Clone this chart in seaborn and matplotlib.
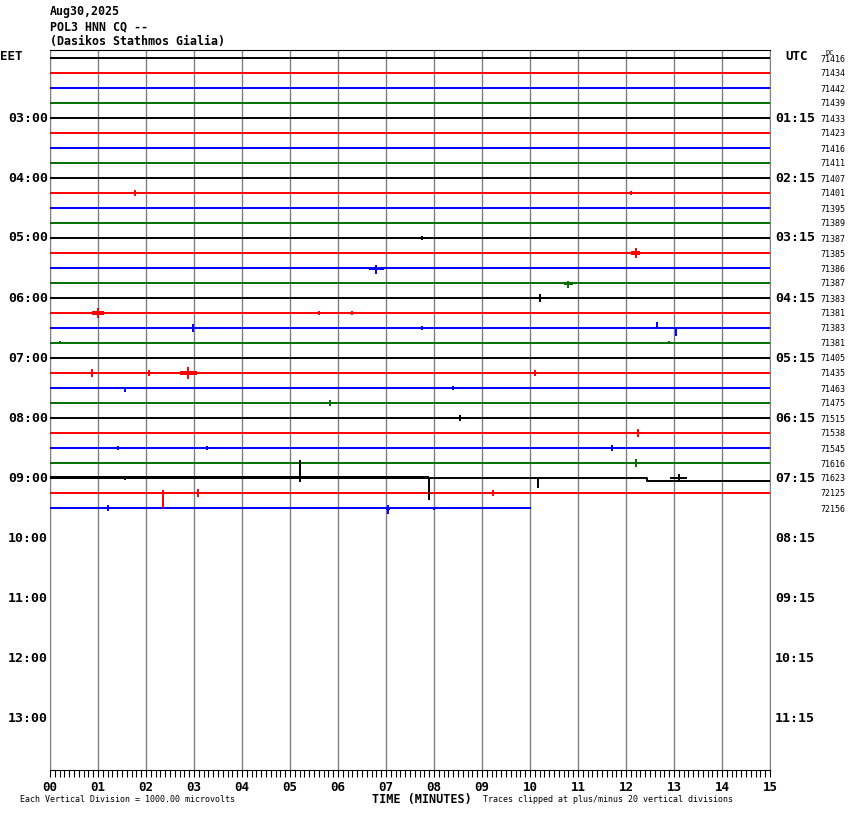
import pandas as pd
import matplotlib
matplotlib.use('Agg')
import matplotlib.pyplot as plt
from matplotlib.ticker import MultipleLocator
import seaborn as sns

# station header
title_lines = ['Aug30,2025', 'POL3 HNN CQ --', '(Dasikos Stathmos Gialia)']

# hour labels every 4 traces (one trace = 15 minutes)
eet_hours = ['03:00', '04:00', '05:00', '06:00', '07:00', '08:00',
             '09:00', '10:00', '11:00', '12:00', '13:00']
utc_hours = ['01:15', '02:15', '03:15', '04:15', '05:15', '06:15',
             '07:15', '08:15', '09:15', '10:15', '11:15']

# DC level printed at the right of each trace
dc_counts = [71416, 71434, 71442, 71439, 71433, 71423, 71416, 71411, 71407, 71401,
             71395, 71389, 71387, 71385, 71386, 71387, 71383, 71381, 71383, 71381,
             71405, 71435, 71463, 71475, 71515, 71538, 71545, 71616, 71623, 72125,
             72156]

trace_colors = ['black', 'red', 'blue', '#007000']
n_rows = 48          # 02:00 .. 13:45 EET
trace_end = [15.0] * 30 + [10.0]

# offset of the 09:00 trace after the step (pixels, down)
step_row = 28
step_minute = 12.43
step_px = 3

# (trace, minute, up px, down px, burst width in minutes)
events = [
    (9, 1.77, 3, 3, 0.25), (9, 12.1, 2, 2, 0.1), (12, 7.75, 2, 2, 0.15),
    (13, 12.2, 5, 5, 0.2), (14, 6.8, 3, 6, 0.3), (15, 10.8, 2, 5, 0.2),
    (16, 10.2, 4, 4, 0.25), (17, 1.0, 5, 5, 0.25), (17, 5.6, 2, 2, 0.1),
    (17, 6.3, 2, 2, 0.1), (18, 2.98, 4, 4, 0.1), (18, 12.65, 6, 0, 0.0),
    (18, 13.05, 0, 8, 0.0), (18, 7.75, 2, 2, 0.1), (19, 0.2, 2, 1, 0.15),
    (19, 12.9, 2, 1, 0.1), (21, 0.87, 4, 4, 0.15), (21, 2.07, 3, 3, 0.1),
    (21, 2.88, 6, 6, 0.35), (21, 10.1, 3, 3, 0.2), (22, 1.56, 1, 4, 0.1),
    (22, 8.4, 2, 2, 0.15), (23, 5.83, 3, 3, 0.25), (24, 8.55, 3, 3, 0.25),
    (25, 12.25, 4, 4, 0.3), (26, 1.42, 2, 2, 0.1), (26, 3.27, 2, 2, 0.2),
    (26, 11.7, 3, 3, 0.3), (27, 12.2, 4, 4, 0.2), (28, 1.56, 2, 2, 0.1),
    (28, 5.21, 18, 4, 0.0), (28, 7.9, 0, 22, 0.0), (28, 10.17, 0, 10, 0.0),
    (28, 13.1, 4, 4, 0.35), (29, 2.35, 3, 15, 0.0), (29, 3.08, 4, 4, 0.1),
    (29, 9.23, 3, 3, 0.15), (30, 1.21, 3, 3, 0.15), (30, 7.04, 3, 6, 0.1),
    (30, 8.0, 1, 2, 0.1),
]

# noisy stretches drawn as thicker bands: (trace, start, end, half width px)
bands = [(28, 0.0, 7.9, 1.5)]

rows = []
for i in range(len(dc_counts)):
    if i == step_row:
        pts = [(0.0, 0), (step_minute, 0), (step_minute, step_px), (15.0, step_px)]
    else:
        pts = [(0.0, 0), (trace_end[i], 0)]
    for m, off in pts:
        rows.append({'trace': 't%02d' % i, 'minute': m, 'y': i + off / 15.0})
df = pd.DataFrame(rows)
palette = {'t%02d' % i: trace_colors[i % 4] for i in range(len(dc_counts))}

W, H = 850, 814
fig = plt.figure(figsize=(W / 100, H / 100), dpi=100)
ax = fig.add_axes([50 / W, 1 - 770 / H, 720 / W, 720 / H])
ax.set_xlim(0, 15)
ax.set_ylim(n_rows - 0.5333, -0.5333)

for m in range(16):
    ax.axvline(m, color='#808080', lw=1.0, zorder=1)

sns.lineplot(data=df, x='minute', y='y', hue='trace', palette=palette,
             units='trace', estimator=None, sort=False, legend=False,
             lw=1.4, ax=ax, zorder=3)

for r, m, up, dn, w in events:
    c = trace_colors[r % 4]
    ax.vlines(m, r - up / 15.0, r + dn / 15.0, color=c, lw=1.4, zorder=4)
    if w > 0:
        ax.fill_between([m - w / 2, m + w / 2], r - max(1, up / 3) / 15.0,
                        r + max(1, dn / 3) / 15.0, color=c, lw=0, zorder=4)
for r, a, b, hw in bands:
    ax.fill_between([a, b], r - hw / 15.0, r + hw / 15.0,
                    color=trace_colors[r % 4], lw=0, zorder=4)

ax.set_xlabel('')
ax.set_ylabel('')
ax.set_yticks([])
ax.set_xticks(range(16))
ax.set_xticklabels(['%02d' % m for m in range(16)], family='DejaVu Sans Mono',
                   weight='bold', size=9)
ax.xaxis.set_minor_locator(MultipleLocator(0.1))
ax.tick_params(axis='x', which='both', direction='out', length=5, width=0.8,
               color='black', pad=3)
for s in ['left', 'right']:
    ax.spines[s].set_color('#808080')
ax.spines['top'].set_color('black')
ax.spines['bottom'].set_color('black')


def px(x, y):
    return x / W, 1 - y / H


mono = 'DejaVu Sans Mono'
for k, line in enumerate(title_lines):
    fig.text(*px(50, 12 + 15 * k), line, family=mono, weight='bold', size=8.4,
             ha='left', va='center')

fig.text(*px(0, 57), 'EET', family=mono, weight='bold', size=9, ha='left', va='center')
fig.text(*px(785, 57), 'UTC', family=mono, weight='bold', size=9, ha='left', va='center')
for k, (e, u) in enumerate(zip(eet_hours, utc_hours)):
    yy = 58 + 15 * 4 * (k + 1)
    fig.text(*px(48, yy), e, family=mono, weight='bold', size=9.5, ha='right', va='center')
    fig.text(*px(775, yy), u, family=mono, weight='bold', size=9.5, ha='left', va='center')
for i, v in enumerate(dc_counts):
    fig.text(*px(820, 59 + 15 * i), str(v), family=mono, size=6, ha='left', va='center')
fig.text(*px(826, 53), 'DC', family=mono, size=5, ha='left', va='center')

fig.text(*px(422, 799), 'TIME (MINUTES)', family=mono, weight='bold', size=8.5,
         ha='center', va='center')
fig.text(*px(20, 800), 'Each Vertical Division = 1000.00 microvolts', family=mono,
         size=6, ha='left', va='center')
fig.text(*px(483, 800), 'Traces clipped at plus/minus 20 vertical divisions', family=mono,
         size=6, ha='left', va='center')

fig.savefig('out.png', dpi=100, facecolor='white')
